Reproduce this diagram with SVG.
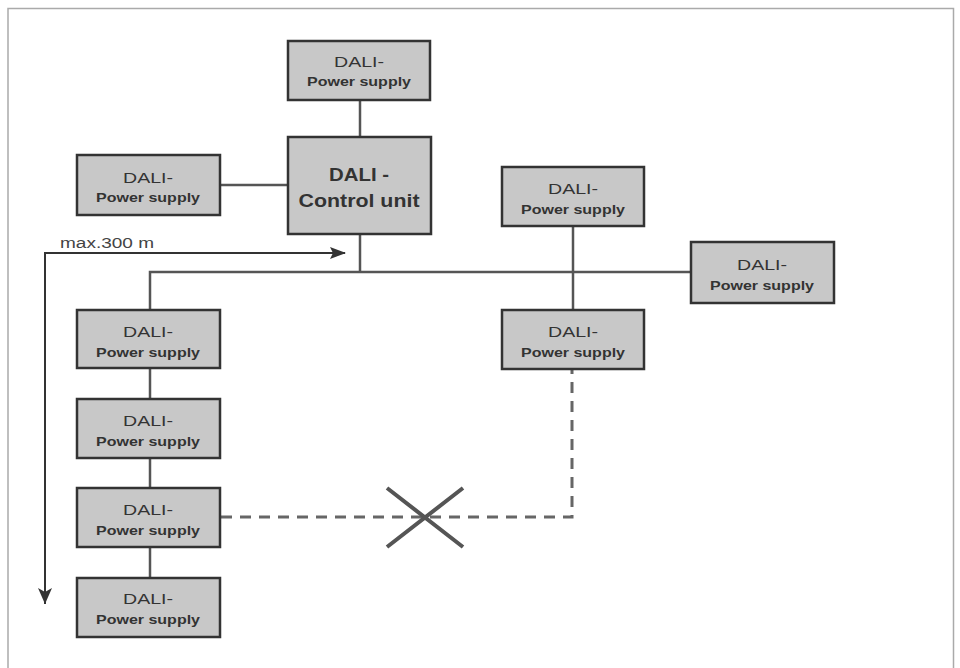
<svg xmlns="http://www.w3.org/2000/svg" width="960" height="668" viewBox="0 0 960 668">
<style>
.box{fill:#c8c8c8;stroke:#333;stroke-width:2.5}
.t1{font-family:"Liberation Sans",Arial,sans-serif;font-size:15px;fill:#333;text-anchor:middle}
.t2{font-family:"Liberation Sans",Arial,sans-serif;font-size:13px;font-weight:bold;fill:#333;text-anchor:middle}
.t3{font-family:"Liberation Sans",Arial,sans-serif;font-size:19px;font-weight:bold;fill:#333;text-anchor:middle}
.ln{fill:none;stroke:#555;stroke-width:2.5}
.dash{fill:none;stroke:#666;stroke-width:3;stroke-dasharray:11 8}
.arr{fill:none;stroke:#333;stroke-width:2}
</style>
<defs>
<marker id="ah" markerWidth="10" markerHeight="8" refX="9" refY="4" orient="auto" markerUnits="userSpaceOnUse" viewBox="0 0 10 8">
<path d="M0,0 L10,4 L0,8 Z" fill="#333"/>
</marker>
<marker id="ah2" markerWidth="16" markerHeight="12" refX="15" refY="6" orient="auto" markerUnits="userSpaceOnUse" viewBox="0 0 16 12">
<path d="M0,0 L16,6 L0,12 L3,6 Z" fill="#333"/>
</marker>
</defs>
<rect x="0" y="0" width="960" height="668" fill="#fff"/>
<path d="M8,668 V8.5 H953.5 V668" fill="none" stroke="#aaa" stroke-width="1.5"/>
<g id="connectors">
<path class="ln" d="M360,100 V137"/>
<path class="ln" d="M220,185 H288"/>
<path class="ln" d="M360,234 V272"/>
<path class="ln" d="M150,311 V272 H691"/>
<path class="ln" d="M573,226 V311"/>
<path class="ln" d="M150,369 V399"/>
<path class="ln" d="M150,458 V488"/>
<path class="ln" d="M150,547 V578"/>
<path class="dash" d="M221,517 H572 V370"/>
<path d="M387,488 L463,547 M463,488 L387,547" stroke="#555" stroke-width="4" fill="none"/>
<path class="arr" d="M45,604 V253 H345" marker-end="url(#ah2)"/>
<path d="M38,588 L45,604 L52,588 L45,592 Z" fill="#333"/>
<text x="60" y="248" font-family="Liberation Sans, Arial, sans-serif" font-size="14" fill="#444" textLength="94" lengthAdjust="spacingAndGlyphs">max.300 m</text>
</g>
<g id="ps-top">
<rect class="box" x="288" y="41" width="142" height="59"/>
<text class="t1" x="359" y="67" textLength="50" lengthAdjust="spacingAndGlyphs">DALI-</text>
<text class="t2" x="359" y="86" textLength="104" lengthAdjust="spacingAndGlyphs">Power supply</text>
</g>
<g id="control-unit">
<rect class="box" x="288" y="137" width="143" height="97"/>
<text class="t3" x="359" y="181" textLength="60" lengthAdjust="spacingAndGlyphs">DALI -</text>
<text class="t3" x="359" y="207" textLength="121" lengthAdjust="spacingAndGlyphs">Control unit</text>
</g>
<g id="ps-left">
<rect class="box" x="77" y="155" width="143" height="60"/>
<text class="t1" x="148" y="183" textLength="50" lengthAdjust="spacingAndGlyphs">DALI-</text>
<text class="t2" x="148" y="202" textLength="104" lengthAdjust="spacingAndGlyphs">Power supply</text>
</g>
<g id="ps-right-top">
<rect class="box" x="502" y="167" width="142" height="59"/>
<text class="t1" x="573" y="194" textLength="50" lengthAdjust="spacingAndGlyphs">DALI-</text>
<text class="t2" x="573" y="214" textLength="104" lengthAdjust="spacingAndGlyphs">Power supply</text>
</g>
<g id="ps-far-right">
<rect class="box" x="691" y="242" width="143" height="61"/>
<text class="t1" x="762" y="270" textLength="50" lengthAdjust="spacingAndGlyphs">DALI-</text>
<text class="t2" x="762" y="290" textLength="104" lengthAdjust="spacingAndGlyphs">Power supply</text>
</g>
<g id="ps-right-bottom">
<rect class="box" x="502" y="310" width="142" height="59"/>
<text class="t1" x="573" y="337" textLength="50" lengthAdjust="spacingAndGlyphs">DALI-</text>
<text class="t2" x="573" y="357" textLength="104" lengthAdjust="spacingAndGlyphs">Power supply</text>
</g>
<g id="ps-chain-1">
<rect class="box" x="77" y="310" width="143" height="58"/>
<text class="t1" x="148" y="337" textLength="50" lengthAdjust="spacingAndGlyphs">DALI-</text>
<text class="t2" x="148" y="357" textLength="104" lengthAdjust="spacingAndGlyphs">Power supply</text>
</g>
<g id="ps-chain-2">
<rect class="box" x="77" y="399" width="143" height="59"/>
<text class="t1" x="148" y="426" textLength="50" lengthAdjust="spacingAndGlyphs">DALI-</text>
<text class="t2" x="148" y="446" textLength="104" lengthAdjust="spacingAndGlyphs">Power supply</text>
</g>
<g id="ps-chain-3">
<rect class="box" x="77" y="488" width="143" height="59"/>
<text class="t1" x="148" y="515" textLength="50" lengthAdjust="spacingAndGlyphs">DALI-</text>
<text class="t2" x="148" y="535" textLength="104" lengthAdjust="spacingAndGlyphs">Power supply</text>
</g>
<g id="ps-chain-4">
<rect class="box" x="77" y="578" width="143" height="59"/>
<text class="t1" x="148" y="604" textLength="50" lengthAdjust="spacingAndGlyphs">DALI-</text>
<text class="t2" x="148" y="624" textLength="104" lengthAdjust="spacingAndGlyphs">Power supply</text>
</g>
</svg>
